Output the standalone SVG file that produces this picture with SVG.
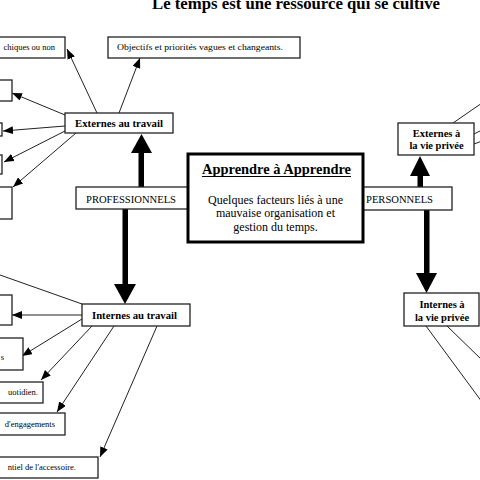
<svg xmlns="http://www.w3.org/2000/svg" width="480" height="480" viewBox="0 0 480 480">
<style>
.box{fill:#fff;stroke:#222;stroke-width:1.3}
.t{font-family:"Liberation Serif","Times New Roman",serif;fill:#000}
.s{font-size:8.5px}
.b{font-weight:bold;font-size:9.5px}
.v{font-weight:bold;font-size:10.5px}
.m{font-size:10px}
.c{stroke:#222;stroke-width:1;fill:none}
.thick{fill:#000}
</style>
<defs>
<marker id="ah" markerUnits="userSpaceOnUse" markerWidth="10" markerHeight="8" refX="10" refY="4" orient="auto">
<path d="M0,0 L10,4 L0,8 z" fill="#000"/>
</marker>
</defs>
<rect width="480" height="480" fill="#fff"/>
<text class="t" x="296" y="9" font-size="17" font-weight="bold" text-anchor="middle" textLength="288" lengthAdjust="spacingAndGlyphs">Le temps est une ressource qui se cultive</text>

<g id="connectors">
<line class="c" x1="97" y1="113" x2="67" y2="49" marker-end="url(#ah)"/>
<line class="c" x1="119" y1="113" x2="140" y2="58" marker-end="url(#ah)"/>
<line class="c" x1="65" y1="115" x2="12" y2="93" marker-end="url(#ah)"/>
<line class="c" x1="65" y1="126" x2="3" y2="131" marker-end="url(#ah)"/>
<line class="c" x1="65" y1="131" x2="4" y2="162" marker-end="url(#ah)"/>
<line class="c" x1="76" y1="133" x2="13" y2="187" marker-end="url(#ah)"/>
<line class="c" x1="82" y1="304" x2="0" y2="275"/>
<line class="c" x1="82" y1="315" x2="12" y2="315" marker-end="url(#ah)"/>
<line class="c" x1="82" y1="319" x2="22" y2="356" marker-end="url(#ah)"/>
<line class="c" x1="92" y1="326" x2="41" y2="380" marker-end="url(#ah)"/>
<line class="c" x1="114" y1="326" x2="57" y2="412" marker-end="url(#ah)"/>
<line class="c" x1="157" y1="326" x2="100" y2="457" marker-end="url(#ah)"/>
<line class="c" x1="453" y1="123" x2="482" y2="103"/>
<line class="c" x1="474" y1="134" x2="482" y2="130"/>
<line class="c" x1="474" y1="144" x2="482" y2="141"/>
<line class="c" x1="426" y1="326" x2="482" y2="402"/>
<line class="c" x1="447" y1="326" x2="482" y2="360"/>
<rect class="thick" x="138.5" y="152" width="5.5" height="36"/>
<polygon class="thick" points="131,153 152,153 141.5,134"/>
<rect class="thick" x="122.5" y="208" width="5.5" height="77"/>
<polygon class="thick" points="114,284 136,284 125,304"/>
<rect class="thick" x="417.5" y="175" width="5.5" height="13"/>
<polygon class="thick" points="410,176 430,176 420,156"/>
<rect class="thick" x="424" y="209" width="5.5" height="65"/>
<polygon class="thick" points="416,273 437,273 426.5,293"/>
</g>

<g id="n-hierarchiques"><rect class="box" x="-5" y="37" width="70" height="21"/><text class="t s" x="55" y="50" text-anchor="end">chiques ou non</text></g>
<g id="n-objectifs"><rect class="box" x="108" y="37" width="192" height="21"/><text class="t s" x="117" y="50" textLength="166" lengthAdjust="spacingAndGlyphs">Objectifs et priorités vagues et changeants.</text></g>
<g id="n-left1"><rect class="box" x="-5" y="80" width="17" height="21"/></g>
<g id="n-left2"><rect class="box" x="-10" y="123" width="12" height="13"/></g>
<g id="n-left3"><rect class="box" x="-10" y="155" width="12" height="19"/></g>
<g id="n-left4"><rect class="box" x="-5" y="187" width="17" height="32"/></g>
<g id="n-externes-travail"><rect class="box" x="65" y="113" width="108" height="20"/><text class="t b" x="119" y="127" text-anchor="middle" textLength="88" lengthAdjust="spacingAndGlyphs">Externes au travail</text></g>
<g id="n-professionnels"><rect class="box" x="76" y="187" width="112" height="22"/><text class="t m" x="86" y="203" textLength="90" lengthAdjust="spacingAndGlyphs">PROFESSIONNELS</text></g>
<g id="n-personnels"><rect class="box" x="362" y="187" width="90" height="23"/><text class="t m" x="366" y="203" textLength="67" lengthAdjust="spacingAndGlyphs">PERSONNELS</text></g>
<g id="n-main"><rect x="188" y="154" width="175" height="88" fill="#fff" stroke="#000" stroke-width="3"/>
<text class="t" x="276.5" y="174" font-size="14" font-weight="bold" text-anchor="middle" textLength="149" lengthAdjust="spacingAndGlyphs">Apprendre à Apprendre</text>
<line x1="202" y1="176.5" x2="351" y2="176.5" stroke="#000" stroke-width="1"/>
<text class="t" font-size="12" text-anchor="middle"><tspan x="275.5" y="204" textLength="135" lengthAdjust="spacingAndGlyphs">Quelques facteurs liés à une</tspan><tspan x="275.5" y="217">mauvaise organisation et</tspan><tspan x="275.5" y="231">gestion du temps.</tspan></text></g>
<g id="n-externes-vie"><rect class="box" x="398" y="123" width="76" height="32"/><text class="t v" text-anchor="middle"><tspan x="436.5" y="137">Externes à</tspan><tspan x="436.5" y="149">la vie privée</tspan></text></g>
<g id="n-internes-vie"><rect class="box" x="404" y="293" width="75" height="33"/><text class="t v" text-anchor="middle"><tspan x="442" y="308">Internes à</tspan><tspan x="442" y="321">la vie privée</tspan></text></g>
<g id="n-internes-travail"><rect class="box" x="82" y="304" width="108" height="22"/><text class="t b" x="134.5" y="319" text-anchor="middle" textLength="85" lengthAdjust="spacingAndGlyphs">Internes au travail</text></g>
<g id="n-intA"><rect class="box" x="-5" y="295" width="17" height="30"/></g>
<g id="n-intB"><rect class="box" x="-5" y="338" width="28" height="32"/><text class="t s" x="4" y="360" text-anchor="end">s</text></g>
<g id="n-intC"><rect class="box" x="-5" y="382" width="48" height="21"/><text class="t s" x="38" y="395" text-anchor="end">uotidien.</text></g>
<g id="n-intD"><rect class="box" x="-5" y="413" width="70" height="22"/><text class="t s" x="55" y="427" text-anchor="end">d'engagements</text></g>
<g id="n-intE"><rect class="box" x="-5" y="457" width="103" height="21"/><text class="t s" x="76" y="470" text-anchor="end">ntiel de l'accessoire.</text></g>
</svg>
